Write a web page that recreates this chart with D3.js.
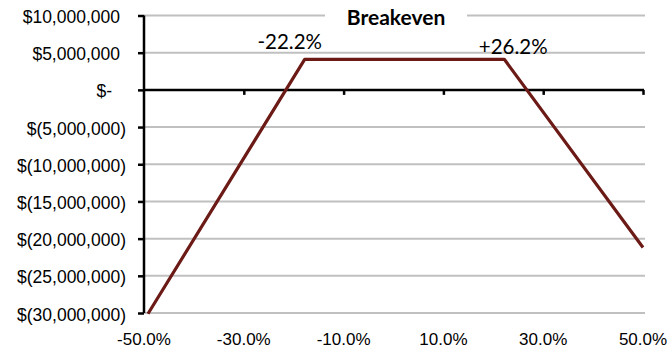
<!DOCTYPE html>
<html>
<head>
<meta charset="utf-8">
<script src="https://cdn.jsdelivr.net/npm/d3@7"></script>
<style>
  body { margin: 0; background: #fff; }
  svg { display: block; }
</style>
</head>
<body>
<svg id="chart" width="671" height="350"></svg>
<script>
// ---- data ----
const title = "Breakeven";
const pctChange = [-49.2, -17.8, 22.2, 50.0];          // price change, %
const profit = [-30100000, 4110000, 4110000, -21200000]; // P&L, $
const yTickValues = [10000000, 5000000, 0, -5000000, -10000000, -15000000, -20000000, -25000000, -30000000];
const yTickLabels = ["$10,000,000", "$5,000,000", "$-", "$(5,000,000)", "$(10,000,000)", "$(15,000,000)", "$(20,000,000)", "$(25,000,000)", "$(30,000,000)"];
const xTickValues = [-50, -30, -10, 10, 30, 50];
const xTickLabels = ["-50.0%", "-30.0%", "-10.0%", "10.0%", "30.0%", "50.0%"];
const breakevenLabels = ["-22.2%", "+26.2%"];
const breakevenAt = [-20.8, 24.0]; // label centres, %

(function () {
// ---- layout ----
const svg = d3.select("#chart");
const pLeft = 144, pRight = 643, pTop = 15.5, pBottom = 313;
const axisFont = '"Liberation Sans"';
const labelFont = '"Lato"';

const x = d3.scaleLinear().domain([-50, 50]).range([pLeft, pRight]);
const y = d3.scaleLinear().domain([-30000000, 10000000]).range([pBottom, pTop]);

// gridlines
svg.append("g").selectAll("line")
  .data(yTickValues.filter(v => v !== 0))
  .join("line")
  .attr("x1", pLeft).attr("x2", pRight + 2)
  .attr("y1", d => y(d)).attr("y2", d => y(d))
  .attr("stroke", "#c0c0c0").attr("stroke-width", 2);

// y axis
const yAxis = svg.append("g").attr("transform", `translate(${pLeft},0)`)
  .call(d3.axisLeft(y).tickValues(yTickValues).tickSize(6).tickFormat(""));
yAxis.select(".domain").attr("stroke", "#000").attr("stroke-width", 2.5)
  .attr("d", `M0,${pTop}V${pBottom}`);
yAxis.selectAll(".tick line").attr("stroke", "#000").attr("stroke-width", 2.5);

// y labels
svg.append("g").selectAll("text")
  .data(yTickValues)
  .join("text")
  .attr("x", (d, i) => {
    const l = yTickLabels[i];
    if (l.endsWith(")")) return 126;
    if (l === "$-") return 112;
    return 120;
  })
  .attr("y", d => y(d) + 7.5)
  .attr("text-anchor", "end")
  .style("font-family", axisFont)
  .style("font-size", "17.5px")
  .attr("fill", "#000")
  .text((d, i) => yTickLabels[i]);

// x axis at zero
const xAxis = svg.append("g").attr("transform", `translate(0,${y(0)})`)
  .call(d3.axisBottom(x).tickValues(xTickValues.slice(1)).tickSize(5).tickFormat(""));
xAxis.select(".domain").attr("stroke", "#000").attr("stroke-width", 2.5)
  .attr("d", `M${pLeft},0H${pRight + 1}`);
xAxis.selectAll(".tick line").attr("stroke", "#000").attr("stroke-width", 2.5);

// x labels at bottom
svg.append("g").selectAll("text")
  .data(xTickValues)
  .join("text")
  .attr("x", d => x(d))
  .attr("y", 345)
  .attr("text-anchor", "middle")
  .style("font-family", axisFont)
  .style("font-size", "17px")
  .attr("fill", "#000")
  .text((d, i) => xTickLabels[i]);

// title with white background over top gridline
svg.append("rect").attr("x", 325).attr("y", 4).attr("width", 142).attr("height", 24).attr("fill", "#fff");
svg.append("text")
  .attr("x", 396).attr("y", 25)
  .attr("text-anchor", "middle")
  .style("font-family", labelFont)
  .style("font-weight", "bold")
  .style("font-size", "21px")
  .attr("fill", "#000")
  .text(title);

// line
const pts = pctChange.map((p, i) => [p, profit[i]]);
svg.append("path")
  .datum(pts)
  .attr("fill", "none")
  .attr("stroke", "#6b1a16")
  .attr("stroke-width", 3.2)
  .attr("stroke-linejoin", "round")
  .attr("d", d3.line().x(d => x(d[0])).y(d => y(d[1])));

// breakeven labels
const labelY = [49, 54];
svg.append("g").selectAll("text")
  .data(breakevenLabels)
  .join("text")
  .attr("x", (d, i) => x(breakevenAt[i]))
  .attr("y", (d, i) => labelY[i])
  .attr("text-anchor", "middle")
  .style("font-family", labelFont)
  .style("font-size", "20.5px")
  .attr("fill", "#000")
  .text(d => d);
})();
</script>
</body>
</html>
